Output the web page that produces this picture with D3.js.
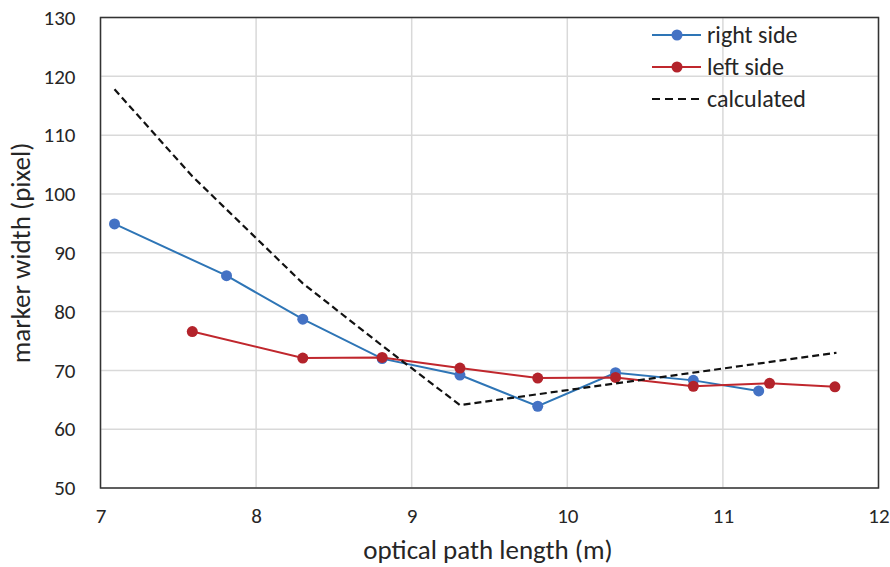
<!DOCTYPE html>
<html>
<head>
<meta charset="utf-8">
<script src="https://cdn.jsdelivr.net/npm/d3@7"></script>
<style>
body { margin: 0; background: #fff; }
svg text { font-family: Carlito, "Open Sans", "Liberation Sans", sans-serif; fill: #262626; }
</style>
</head>
<body>
<svg id="chart"></svg>
<script>
// data
var rightX = [7.09, 7.81, 8.30, 8.81, 9.31, 9.81, 10.31, 10.81, 11.23];
var rightY = [94.9, 86.1, 78.7, 72.0, 69.2, 63.9, 69.6, 68.3, 66.5];
var leftX = [7.59, 8.30, 8.81, 9.31, 9.81, 10.31, 10.81, 11.30, 11.72];
var leftY = [76.6, 72.1, 72.2, 70.4, 68.7, 68.8, 67.3, 67.8, 67.2];
var calcX = [7.09, 7.59, 8.30, 8.81, 9.31, 11.73];
var calcY = [117.8, 103.0, 84.8, 74.2, 64.1, 73.0];
var xTicks = [7, 8, 9, 10, 11, 12];
var yTicks = [50, 60, 70, 80, 90, 100, 110, 120, 130];

var width = 890, height = 567;
var svg = d3.select("#chart").attr("width", width).attr("height", height);

var pLeft = 100.5, pRight = 878.5, pTop = 17.5, pBottom = 488;
var x = d3.scaleLinear().domain([7, 12]).range([pLeft, pRight]);
var y = d3.scaleLinear().domain([50, 130]).range([pBottom, pTop]);

// grid
svg.append("g").selectAll("line").data(yTicks).enter().append("line")
	.attr("x1", pLeft).attr("x2", pRight)
	.attr("y1", function(d){ return y(d); })
	.attr("y2", function(d){ return y(d); })
	.attr("stroke", "#d9d9d9").attr("stroke-width", 1.5);
svg.append("g").selectAll("line").data(xTicks).enter().append("line")
	.attr("x1", function(d){ return x(d); })
	.attr("x2", function(d){ return x(d); })
	.attr("y1", pTop).attr("y2", pBottom)
	.attr("stroke", "#d9d9d9").attr("stroke-width", 1.5);

// axes (labels only, frame drawn below)
var axisX = d3.axisBottom(x).tickValues(xTicks).tickSize(0).tickPadding(20).tickFormat(d3.format("d"));
var gx = svg.append("g").attr("transform", "translate(0," + pBottom + ")").call(axisX);
var axisY = d3.axisLeft(y).tickValues(yTicks).tickSize(0).tickPadding(25).tickFormat(d3.format("d"));
var gy = svg.append("g").attr("transform", "translate(" + pLeft + ",0)").call(axisY);
[gx, gy].forEach(function(g){
	g.select(".domain").remove();
	g.selectAll("text").attr("font-size", "21px").attr("font-family", null).attr("fill", "#262626");
});

svg.append("rect")
	.attr("x", pLeft).attr("y", pTop)
	.attr("width", pRight - pLeft).attr("height", pBottom - pTop)
	.attr("fill", "none").attr("stroke", "#333").attr("stroke-width", 1.5);

// series
var line = d3.line().x(function(d){ return x(d[0]); }).y(function(d){ return y(d[1]); });
var calc = d3.zip(calcX, calcY);
var rightPts = d3.zip(rightX, rightY);
var leftPts = d3.zip(leftX, leftY);

svg.append("path").datum(rightPts).attr("d", line)
	.attr("fill", "none").attr("stroke", "#2e75b6").attr("stroke-width", 2);
svg.append("g").selectAll("circle").data(rightPts).enter().append("circle")
	.attr("cx", function(d){ return x(d[0]); })
	.attr("cy", function(d){ return y(d[1]); })
	.attr("r", 5.5).attr("fill", "#4472c4");

svg.append("path").datum(leftPts).attr("d", line)
	.attr("fill", "none").attr("stroke", "#c0272d").attr("stroke-width", 2);
svg.append("g").selectAll("circle").data(leftPts).enter().append("circle")
	.attr("cx", function(d){ return x(d[0]); })
	.attr("cy", function(d){ return y(d[1]); })
	.attr("r", 5.5).attr("fill", "#b3232b");

svg.append("path").datum(calc).attr("d", line)
	.attr("fill", "none").attr("stroke", "#111").attr("stroke-width", 2.2)
	.attr("stroke-dasharray", "7,4");

// titles
svg.append("text")
	.attr("x", 488).attr("y", 559)
	.attr("text-anchor", "middle").attr("font-size", "27px")
	.text("optical path length (m)");
svg.append("text")
	.attr("transform", "translate(30,253) rotate(-90)")
	.attr("text-anchor", "middle").attr("font-size", "27px")
	.text("marker width (pixel)");

// legend
var legend = [
	{ name: "right side", color: "#2e75b6", mark: "#4472c4", dash: null },
	{ name: "left side", color: "#c0272d", mark: "#b3232b", dash: null },
	{ name: "calculated", color: "#111", mark: null, dash: "8,5" }
];
var lg = svg.append("g").selectAll("g").data(legend).enter().append("g")
	.attr("transform", function(d, i){ return "translate(652," + (35 + i * 32) + ")"; });
lg.append("line").attr("x1", 0).attr("x2", 49).attr("y1", 0).attr("y2", 0)
	.attr("stroke", function(d){ return d.color; }).attr("stroke-width", 2)
	.attr("stroke-dasharray", function(d){ return d.dash; });
lg.filter(function(d){ return d.mark; }).append("circle")
	.attr("cx", 25).attr("cy", 0).attr("r", 5.5)
	.attr("fill", function(d){ return d.mark; });
lg.append("text").attr("x", 55).attr("y", 8).attr("font-size", "24px")
	.text(function(d){ return d.name; });
</script>
</body>
</html>
